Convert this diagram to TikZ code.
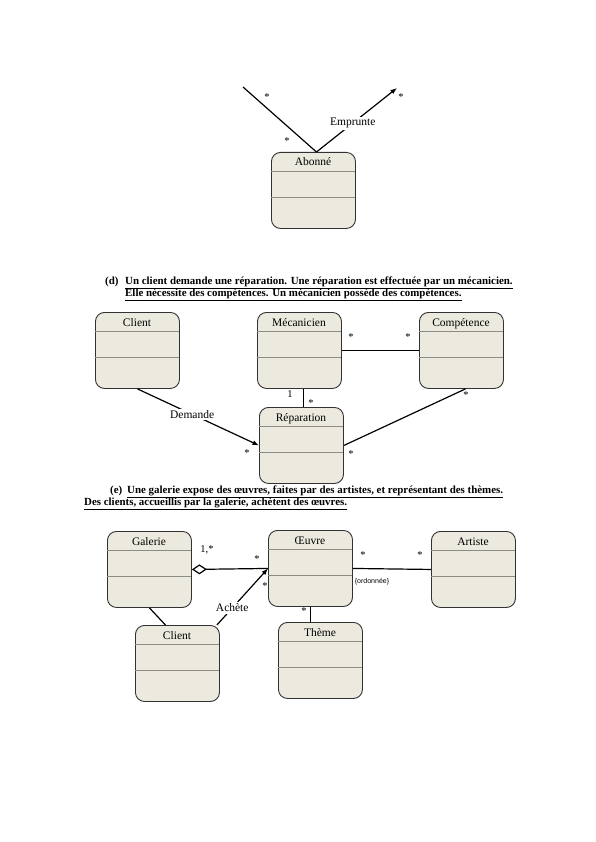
\documentclass[tikz,border=0pt]{standalone}
\usepackage{fontspec}
\setmainfont{Liberation Serif}
\setsansfont{Liberation Sans}
\usetikzlibrary{arrows.meta}

\definecolor{classfill}{RGB}{236,233,222}
\definecolor{classline}{RGB}{50,50,50}
\definecolor{classsep}{RGB}{140,140,132}

% one UML class: name, x, y (top left), title
\newcommand{\classe}[4]{%
  \node[classbox] (#1) at (#2,#3) {};
  \node[classname] (#1_t) at (#2+42,#3+14) {#4};
  \draw[sepline] (#2,#3+19) -- (#2+84,#3+19);
  \draw[sepline] (#2,#3+45) -- (#2+84,#3+45);
}

\begin{document}
\begin{tikzpicture}[
        x = 1pt, y = -1pt,
        >= {Latex[length = 6.5pt, width = 5pt]},
        classbox/.style = {draw = classline, fill = classfill, line width = 0.9pt,
                           rounded corners = 9pt, minimum width = 84pt,
                           minimum height = 76pt, inner sep = 0pt, anchor = north west},
        classname/.style = {anchor = base, inner sep = 0pt, font = \fontsize{11.5}{13}\selectfont},
        sepline/.style = {draw = classsep, line width = 0.9pt},
        assoc/.style = {line width = 1.2pt, black},
        mult/.style = {inner sep = 0pt, font = \fontsize{10.5}{12}\selectfont},
        rolename/.style = {fill = white, inner sep = 1.5pt, font = \fontsize{11.5}{13}\selectfont},
        sectitle/.style = {anchor = base west, inner sep = 0pt, font = \fontsize{10.9}{12}\selectfont\bfseries}
    ]
    \useasboundingbox (0,0) rectangle (595,842);

      % --- top: Abonne
      \classe{abonne}{271}{152}{Abonné}
      \coordinate (loan_l) at (243,87);
      \coordinate (loan_r) at (397,88);

      \draw[assoc] (loan_l) -- ([xshift = 3pt]abonne.north);
      \draw[assoc, ->] ([xshift = 3pt]abonne.north) -- node[rolename, pos = 0.45] {Emprunte} (loan_r);

      \node[mult] (m_ab1) at (267,97) {*};
      \node[mult] (m_ab2) at (287,141) {*};
      \node[mult] (m_ab3) at (401,97) {*};

      % --- (d)
      \node[sectitle] (title_d1) at (105,284) {(d)};
      \node[sectitle] (title_d2) at (125,284) {\underline{Un client demande une réparation. Une réparation est effectuée par un mécanicien.}};
      \node[sectitle] (title_d3) at (125,296) {\underline{Elle nécessite des compétences. Un mécanicien possède des compétences.}};

      \classe{client_d}{95}{312}{Client}
      \classe{meca}{257}{312}{Mécanicien}
      \classe{comp}{419}{312}{Compétence}
      \classe{repa}{259}{407}{Réparation}

      \draw[assoc] (meca.east) -- (comp.west);
      \draw[assoc] ([xshift = 4pt]meca.south) -- ([xshift = 4pt]meca.south |- repa.north);
      \draw[assoc, ->] (client_d.south) -- node[rolename, pos = 0.45] {Demande} (repa.west);
      \draw[assoc] (repa.east) -- ([xshift = 4pt]comp.south);

      \node[mult] (m_d1) at (351,337) {*};
      \node[mult] (m_d2) at (408,337) {*};
      \node[mult] (m_d3) at (290,394) {1};
      \node[mult] (m_d4) at (311,403) {*};
      \node[mult] (m_d5) at (247,453) {*};
      \node[mult] (m_d6) at (351,454) {*};
      \node[mult] (m_d7) at (466,395) {*};

      % --- (e)
      \node[sectitle] (title_e1) at (110,493) {(e)};
      \node[sectitle] (title_e2) at (127,493) {\underline{Une galerie expose des œuvres, faites par des artistes, et représentant des thèmes.}};
      \node[sectitle] (title_e3) at (84,505) {\underline{Des clients, accueillis par la galerie, achètent des œuvres.}};

      \classe{galerie}{107}{531}{Galerie}
      \classe{client_e}{135}{625}{Client}
      \classe{oeuvre}{268}{530}{Œuvre}
      \classe{artiste}{431}{531}{Artiste}
      \classe{theme}{278}{622}{Thème}

      \draw[assoc, {Diamond[open, length = 15pt, width = 10pt]}-] (galerie.east) -- (oeuvre.west);
      \draw[assoc, ->] ([xshift = -3pt]client_e.north east) -- node[rolename, pos = 0.3] {Achète} (oeuvre.west);
      \draw[assoc] (galerie.south) -- ([xshift = -12pt]client_e.north);
      \draw[assoc] (oeuvre.east) -- (artiste.west);
      \draw[assoc] (oeuvre.south) -- (oeuvre.south |- theme.north);

      \node[mult] (m_e1) at (207,550) {1,*};
      \node[mult] (m_e2) at (257,559) {*};
      \node[mult] (m_e3) at (265,586) {*};
      \node[mult] (m_e4) at (363,555) {*};
      \node[mult] (m_e5) at (420,555) {*};
      \node[mult] (m_e6) at (304,611) {*};
      \node[inner sep = 0pt, font = \sffamily\fontsize{7}{8}\selectfont] (ordered) at (372,582) {\{ordonnée\}};

\end{tikzpicture}
\end{document}
